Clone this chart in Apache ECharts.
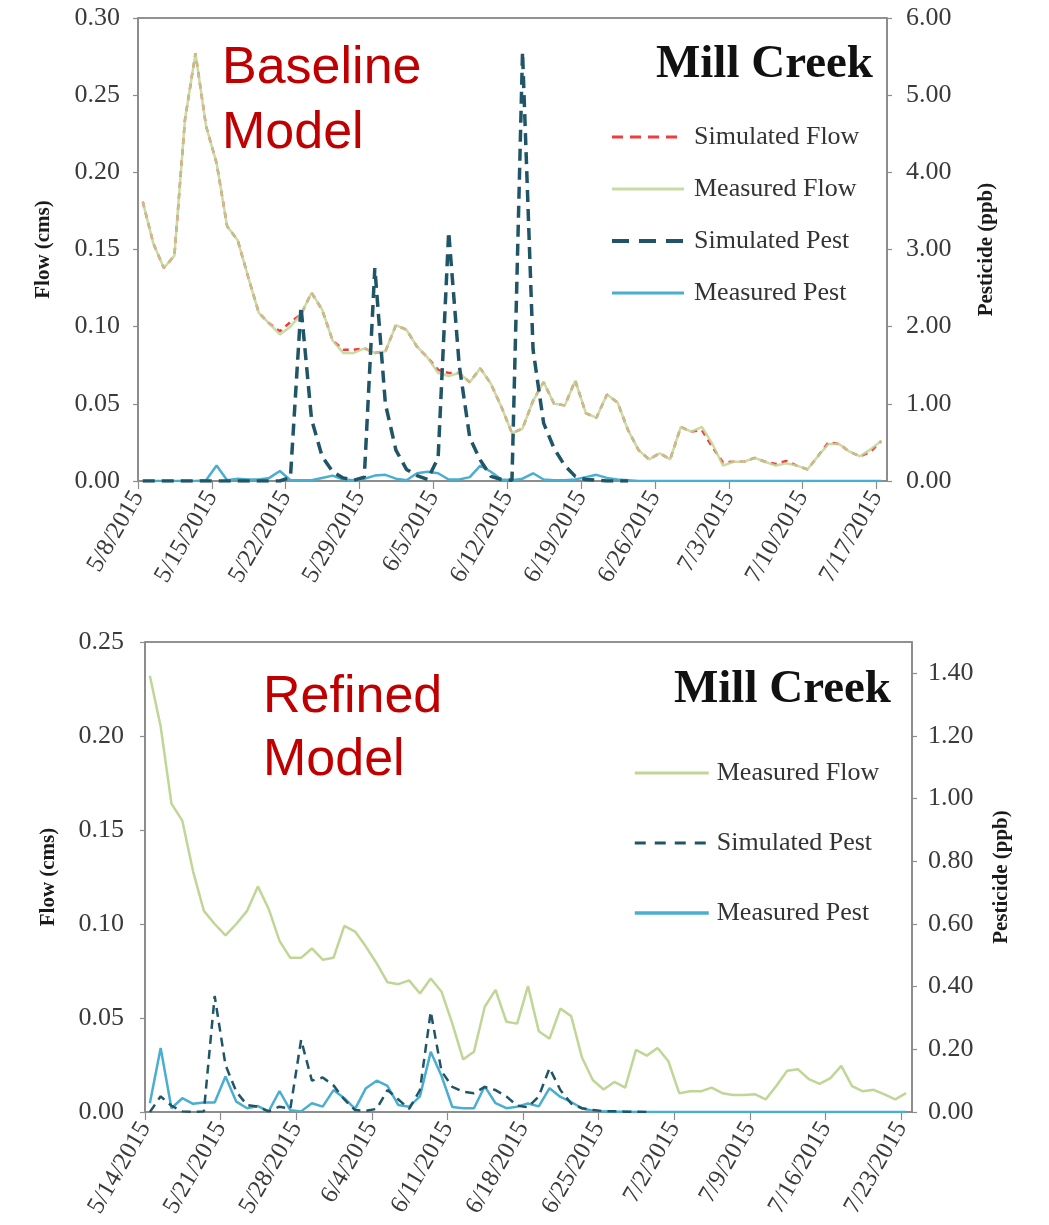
<!DOCTYPE html>
<html>
<head>
<meta charset="utf-8">
<script src="https://cdn.jsdelivr.net/npm/echarts@6/dist/echarts.min.js"></script>
<style>
html,body{margin:0;padding:0;background:#fff;}
#chart{width:1049px;height:1225px;}
</style>
</head>
<body>
<div id="chart"></div>
<script>
// ---------- DATA ----------
// Top panel (Baseline Model): daily values starting 5/8/2015
const topXLabels = ['5/8/2015','5/15/2015','5/22/2015','5/29/2015','6/5/2015','6/12/2015','6/19/2015','6/26/2015','7/3/2015','7/10/2015','7/17/2015'];
const topMeasuredFlow = [0.181,0.154,0.138,0.146,0.234,0.277,0.230,0.206,0.165,0.156,
  0.132,0.109,0.102,0.095,0.100,0.108,0.122,0.111,0.091,0.083,
  0.083,0.086,0.083,0.084,0.101,0.098,0.087,0.080,0.070,0.068,
  0.070,0.064,0.073,0.063,0.048,0.031,0.034,0.052,0.064,0.050,
  0.049,0.065,0.044,0.041,0.056,0.051,0.033,0.020,0.014,0.018,
  0.014,0.035,0.032,0.035,0.024,0.010,0.0125,0.0125,0.015,0.0125,
  0.010,0.0115,0.010,0.0075,0.016,0.024,0.024,0.019,0.016,0.0205,
  0.026];
const topSimulatedFlow = [0.181,0.154,0.138,0.146,0.234,0.277,0.230,0.206,0.165,0.156,
  0.132,0.109,0.102,0.097,0.103,0.108,0.122,0.111,0.091,0.085,
  0.085,0.086,0.083,0.084,0.101,0.098,0.087,0.080,0.072,0.070,
  0.070,0.064,0.073,0.063,0.048,0.031,0.034,0.052,0.064,0.050,
  0.049,0.065,0.044,0.041,0.056,0.051,0.033,0.020,0.014,0.018,
  0.014,0.035,0.032,0.033,0.022,0.012,0.0125,0.0125,0.015,0.0125,
  0.011,0.013,0.010,0.0075,0.016,0.025,0.024,0.019,0.016,0.019,
  0.026];
const topSimulatedPest = [0,0,0,0,0,0,0,0,0,0,
  0,0,0,0,0.05,2.26,0.80,0.32,0.12,0.04,
  0.01,0.05,2.76,1.00,0.40,0.15,0.07,0.02,0.30,3.23,
  1.50,0.56,0.27,0.06,0.02,0.01,5.56,1.70,0.75,0.42,
  0.20,0.06,0.02,0.01,0,0,0];
const topMeasuredPest = [0,0,0,0,0,0,0.01,0.20,0.01,0.03,
  0.02,0.02,0.04,0.13,0.01,0.01,0.01,0.04,0.07,0.02,
  0.01,0.03,0.07,0.08,0.03,0.01,0.10,0.12,0.10,0.02,
  0.02,0.05,0.20,0.12,0.02,0.01,0.03,0.10,0.02,0.01,
  0.01,0.02,0.05,0.08,0.04,0.02,0.01,0,0,0,
  0,0,0,0,0,0,0,0,0,0,
  0,0,0,0,0,0,0,0,0,0,
  0];

// Bottom panel (Refined Model): daily values starting 5/14/2015
const botXLabels = ['5/14/2015','5/21/2015','5/28/2015','6/4/2015','6/11/2015','6/18/2015','6/25/2015','7/2/2015','7/9/2015','7/16/2015','7/23/2015'];
const botMeasuredFlow = [0.232,0.205,0.164,0.155,0.128,0.107,0.100,0.094,0.100,0.107,
  0.120,0.108,0.091,0.082,0.082,0.087,0.081,0.082,0.099,0.096,
  0.088,0.079,0.069,0.068,0.070,0.063,0.071,0.064,0.047,0.028,
  0.032,0.056,0.065,0.048,0.047,0.067,0.043,0.039,0.055,0.051,
  0.029,0.017,0.012,0.016,0.013,0.033,0.030,0.034,0.027,0.010,
  0.011,0.011,0.013,0.010,0.009,0.009,0.0095,0.0067,0.014,0.022,
  0.0227,0.0175,0.015,0.018,0.0245,0.0138,0.011,0.0118,0.0094,0.0067,
  0.010];
const botSimulatedPest = [0,0.05,0.02,0.002,0,0.002,0.37,0.15,0.065,0.022,
  0.017,0.002,0.017,0.01,0.23,0.10,0.11,0.085,0.04,0.006,
  0.004,0.01,0.07,0.04,0.01,0.07,0.32,0.13,0.08,0.065,
  0.06,0.08,0.07,0.05,0.02,0.015,0.05,0.14,0.07,0.027,
  0.012,0.006,0.003,0.002,0.001,0.001,0];
const botMeasuredPest = [0.028,0.204,0.012,0.044,0.026,0.030,0.030,0.113,0.033,0.012,
  0.019,0.002,0.067,0.006,0.002,0.028,0.017,0.070,0.044,0.010,
  0.076,0.100,0.083,0.022,0.017,0.050,0.192,0.115,0.016,0.012,
  0.012,0.082,0.028,0.012,0.017,0.027,0.018,0.076,0.048,0.032,
  0.012,0.004,0.002,0.001,0.001,0,0,0,0,0,
  0,0,0,0,0,0,0,0,0,0,
  0,0,0,0,0,0,0,0,0,0,
  0];

// ---------- HELPERS ----------
const SAMPLE_OFFSET = 0.45; // daily samples plotted within the day
function pts(arr){ return arr.map((v,i)=>[i+SAMPLE_OFFSET, v]); }

const SERIF = "'Liberation Serif','Times New Roman',serif";
const C_GREEN = '#bfd696';
const C_RED = '#f23c3c';
const C_DARK = '#1f5566';
const C_BLUE = '#4aaed0';

function xAxisCfg(gridIndex, labels){
  return {
    type:'value', gridIndex, min:0, max:71, interval:7,
    axisLine:{show:true, lineStyle:{color:'#8c8c8c', width:1.5}},
    axisTick:{show:true, length:8, lineStyle:{color:'#8c8c8c', width:1.2}},
    splitLine:{show:false},
    axisLabel:{
      rotate:60, margin:12, showMaxLabel:false,
      fontFamily:SERIF, fontSize:25, color:'#3a3a3a',
      formatter:(v)=> (Math.round(v)%7===0 && Math.abs(v-Math.round(v))<1e-6) ? (labels[Math.round(v)/7]||'') : ''
    }
  };
}
function yAxisCfg(gridIndex, pos, max, interval, name, nameGap, showMax, margin){
  return {
    type:'value', gridIndex, position:pos, min:0, max, interval,
    name, nameLocation:'middle', nameRotate:90, nameGap,
    nameTextStyle:{fontFamily:SERIF, fontSize:21, fontWeight:'bold', color:'#1a1a1a'},
    axisLine:{show:true, lineStyle:{color:'#8c8c8c', width:1.5}},
    axisTick:{show:true, length:5, inside:false, lineStyle:{color:'#8c8c8c', width:1.2}},
    splitLine:{show:false},
    axisLabel:{margin, fontFamily:SERIF, fontSize:26, color:'#3a3a3a', showMaxLabel:showMax,
      formatter:(v)=>v.toFixed(2)}
  };
}

const legendText = {fontFamily:SERIF, fontSize:26, color:'#333', lineHeight:26, padding:[0,0,0,5]};

const option = {
  animation:false,
  backgroundColor:'#fff',
  grid:[
    {left:138, top:18, right:162, bottom:744, show:true, borderColor:'#6e6e6e', borderWidth:1.5, backgroundColor:'transparent'},
    {left:145, top:642, right:137, bottom:113, show:true, borderColor:'#6e6e6e', borderWidth:1.5, backgroundColor:'transparent'}
  ],
  xAxis:[ xAxisCfg(0, topXLabels), xAxisCfg(1, botXLabels) ],
  yAxis:[
    yAxisCfg(0,'left',0.30,0.05,'Flow (cms)',84,true,18),
    yAxisCfg(0,'right',6,1,'Pesticide (ppb)',89,true,19),
    yAxisCfg(1,'left',0.25,0.05,'Flow (cms)',86,true,21),
    yAxisCfg(1,'right',1.5,0.2,'Pesticide (ppb)',79,false,16)
  ],
  title:[
    {text:'Baseline\nModel', left:222, top:36, padding:0,
     textStyle:{fontFamily:"'Liberation Sans',Arial,sans-serif", fontSize:52, fontWeight:'normal', color:'#c00000', lineHeight:65}},
    {text:'Refined\nModel', left:263, top:666, padding:0,
     textStyle:{fontFamily:"'Liberation Sans',Arial,sans-serif", fontSize:52, fontWeight:'normal', color:'#c00000', lineHeight:63}},
    {text:'Mill Creek', right:176, top:41, padding:0,
     textStyle:{fontFamily:SERIF, fontSize:47, fontWeight:'bold', color:'#111', lineHeight:48}},
    {text:'Mill Creek', right:158, top:666, padding:0,
     textStyle:{fontFamily:SERIF, fontSize:47, fontWeight:'bold', color:'#111', lineHeight:48}}
  ],
  legend:[
    {orient:'vertical', left:610, top:124, itemWidth:72, itemHeight:14, itemGap:26, padding:0,
     itemStyle:{opacity:0},
     lineStyle:{width:3},
     data:[
       {name:'Simulated Flow', lineStyle:{width:3, type:[11,7]}},
       {name:'Measured Flow', lineStyle:{width:3}},
       {name:'Simulated Pest', lineStyle:{width:4, type:[17,10]}},
       {name:'Measured Pest', lineStyle:{width:3}}
     ],
     textStyle:legendText},
    {orient:'vertical', left:633, top:760, itemWidth:74, itemHeight:14, itemGap:44, padding:0,
     itemStyle:{opacity:0},
     lineStyle:{width:3},
     data:[
       {name:'Measured Flow ', lineStyle:{width:3}},
       {name:'Simulated Pest ', lineStyle:{width:3, type:[11,9]}},
       {name:'Measured Pest ', lineStyle:{width:3.5}}
     ],
     textStyle:Object.assign({}, legendText, {padding:[0,0,0,3]}),
     formatter:(n)=>n.trim()}
  ],
  series:[
    // top panel
    {name:'Simulated Flow', type:'line', xAxisIndex:0, yAxisIndex:0, data:pts(topSimulatedFlow), symbol:'none', z:2,
     lineStyle:{color:C_RED, width:2.5, type:[6,5]}, itemStyle:{color:C_RED}},
    {name:'Measured Flow', type:'line', xAxisIndex:0, yAxisIndex:0, data:pts(topMeasuredFlow), symbol:'none', z:3,
     lineStyle:{color:C_GREEN, width:2.5, opacity:0.85}, itemStyle:{color:C_GREEN}},
    {name:'Measured Pest', type:'line', xAxisIndex:0, yAxisIndex:1, data:pts(topMeasuredPest), symbol:'none', z:4,
     lineStyle:{color:C_BLUE, width:2.5}, itemStyle:{color:C_BLUE}},
    {name:'Simulated Pest', type:'line', xAxisIndex:0, yAxisIndex:1, data:pts(topSimulatedPest), symbol:'none', z:5,
     lineStyle:{color:C_DARK, width:3.5, type:[12,7]}, itemStyle:{color:C_DARK}},
    // bottom panel
    {name:'Measured Flow ', type:'line', xAxisIndex:1, yAxisIndex:2, data:pts(botMeasuredFlow), symbol:'none', z:3,
     lineStyle:{color:C_GREEN, width:2.5}, itemStyle:{color:C_GREEN}},
    {name:'Measured Pest ', type:'line', xAxisIndex:1, yAxisIndex:3, data:pts(botMeasuredPest), symbol:'none', z:4,
     lineStyle:{color:C_BLUE, width:2.5}, itemStyle:{color:C_BLUE}},
    {name:'Simulated Pest ', type:'line', xAxisIndex:1, yAxisIndex:3, data:pts(botSimulatedPest), symbol:'none', z:5,
     lineStyle:{color:C_DARK, width:2.5, type:[9,6]}, itemStyle:{color:C_DARK}}
  ]
};

const chart = echarts.init(document.getElementById('chart'), null, {renderer:'canvas', width:1049, height:1225});
chart.setOption(option);
</script>
</body>
</html>
